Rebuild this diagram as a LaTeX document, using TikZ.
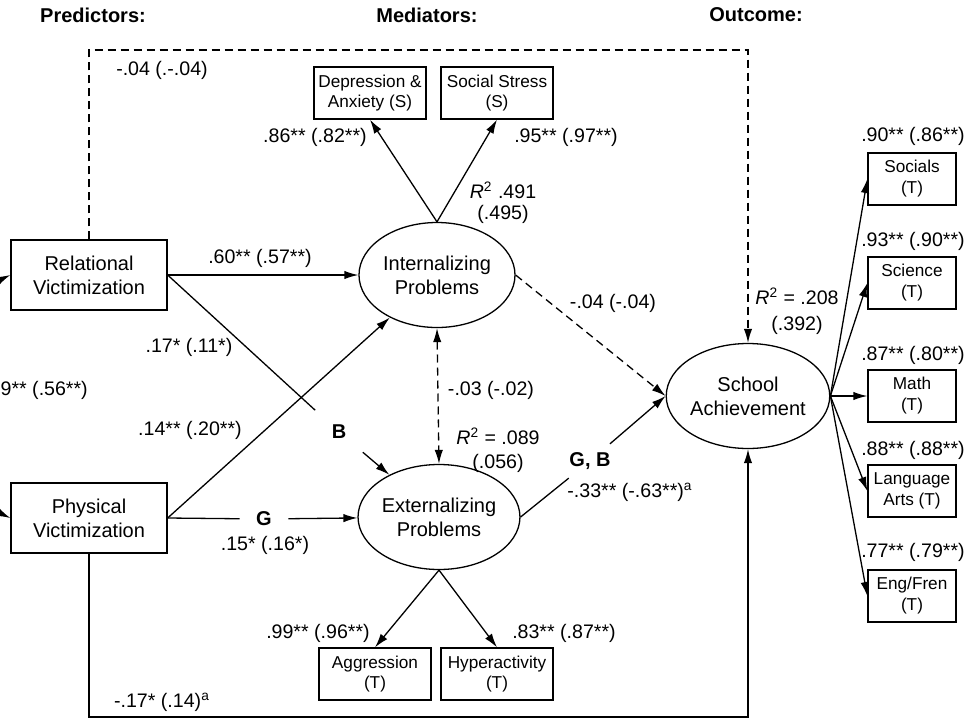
\documentclass[tikz,border=0pt]{standalone}
\usepackage{fontspec}
\setmainfont{Liberation Sans}
\usepackage{tikz}
\usetikzlibrary{arrows.meta,positioning,shapes.geometric}

\begin{document}
\begin{tikzpicture}[x=0.5pt,y=-0.5pt,>={Latex[length=7pt,width=4.2pt]},line width=0.65pt,
	every node/.style={font=\fontsize{9.8}{11}\selectfont},
	header/.style={font=\fontsize{10}{12}\selectfont\bfseries},
	grp/.style={font=\fontsize{10}{12}\selectfont\bfseries,inner sep=8pt},
	bigbox/.style={draw,minimum width=78pt,minimum height=35pt,align=center,font=\fontsize{10}{12}\selectfont},
	smallbox/.style={draw,minimum width=56pt,minimum height=26pt,inner sep=1pt,align=center,font=\fontsize{8.6}{10}\selectfont},
	outbox/.style={draw,minimum width=44pt,minimum height=26pt,inner sep=1pt,align=center,font=\fontsize{8.6}{10.5}\selectfont},
	latent/.style={draw,ellipse,minimum width=78pt,minimum height=52.5pt,inner sep=0pt,align=center,font=\fontsize{10}{12}\selectfont},
	dashline/.style={dash pattern=on 4pt off 2.5pt},
	]
\useasboundingbox (0,0) rectangle (966,719);

\node[header] (hPred) at (93,15)  {Predictors:};
\node[header] (hMed)  at (427,15) {Mediators:};
\node[header] (hOut)  at (756,15) {Outcome:};

\node[bigbox] (rel)  at (89,275) {Relational\\Victimization};
\node[bigbox] (phys) at (89,518) {Physical\\Victimization};

\node[latent] (int)    at (437,275) {Internalizing\\Problems};
\node[latent] (ext)    at (439,517) {Externalizing\\Problems};
\node[latent] (school) at (748,396) {School\\Achievement};

\node[smallbox] (depAnx)    at (370,93)  {Depression \&\\Anxiety (S)};
\node[smallbox] (socStress) at (497,93)  {Social Stress\\(S)};
\node[smallbox] (aggr)      at (375,674) {Aggression\\(T)};
\node[smallbox] (hyper)     at (497,674) {Hyperactivity\\(T)};

\node[outbox] (socials)  at (912,179) {Socials\\(T)};
\node[outbox] (science)  at (912,283) {Science\\(T)};
\node[outbox] (math)     at (912,396) {Math\\(T)};
\node[outbox] (langArts) at (912,491) {Language\\Arts (T)};
\node[outbox] (engFren)  at (912,596) {Eng/Fren\\(T)};

\node[grp] (gB)  at (339,432) {B};
\node[grp] (gG)  at (264,519) {G};
\node[grp,inner sep=4pt] (gGB) at (590,461) {G, B};

\coordinate (topCorner) at (748,50);
\coordinate (botCorner) at (748,717);

\draw[->,dashline] (rel.north) |- (topCorner) -- (school.north);
\draw[->] (phys.south) |- (botCorner) -- (school.south);
\draw[<->] (rel.west) to[out=205,in=155] (phys.west);

\draw[->] (int.north) -- (depAnx.south);
\draw[->] (int.north) -- (socStress.south);
\draw[->] (ext.south) -- (aggr.north);
\draw[->] (ext.south) -- (hyper.north);

\draw[->] (rel.east) -- (int);
\draw (rel.east) -- (gB);
\draw[->] (gB) -- (ext);
\draw[->] (phys.east) -- (int);
\draw (phys.east) -- (gG);
\draw[->] (gG) -- (ext);
\draw[<->,dashline] (int.south) -- (ext.north);
\draw[->,dashline] (int.east) -- (school.west);
\draw (ext.east) -- (gGB);
\draw[->] (gGB) -- (school.west);

\draw[->] (school.east) -- (socials.west);
\draw[->] (school.east) -- (science.west);
\draw[->] (school.east) -- (math.west);
\draw[->] (school.east) -- (langArts.west);
\draw[->] (school.east) -- (engFren.west);

\node (cTop)    at (162,70)  {-.04 (.-.04)};
\node (cDepAnx) at (315,137) {.86** (.82**)};
\node (cSocStr) at (566,137) {.95** (.97**)};
\node[align=center,font=\fontsize{9.8}{10.5}\selectfont] (rInt) at (503,203) {\textit{R}\textsuperscript{2} .491\\(.495)};
\node (cRelInt)  at (260,258) {.60** (.57**)};
\node (cRelExt)  at (189,347) {.17* (.11*)};
\node[anchor=west,inner sep=0pt] (cCorr) at (0,390) {9** (.56**)};
\node (cPhysInt) at (190,430) {.14** (.20**)};
\node (cIntExt)  at (491,390) {-.03 (-.02)};
\node[align=center,font=\fontsize{9.8}{12}\selectfont] (rExt) at (498,450) {\textit{R}\textsuperscript{2} = .089\\(.056)};
\node (cIntSch)  at (613,303) {-.04 (-.04)};
\node[align=center,font=\fontsize{9.8}{13}\selectfont] (rSch) at (797,311) {\textit{R}\textsuperscript{2} = .208\\(.392)};
\node (cPhysExt) at (265,545) {.15* (.16*)};
\node (cExtSch)  at (630,492) {-.33** (-.63**)\textsuperscript{a}};
\node (cAggr)    at (318,633) {.99** (.96**)};
\node (cHyper)   at (564,633) {.83** (.87**)};
\node (cPhysSch) at (162,702) {-.17* (.14)\textsuperscript{a}};

\node (cSocials)  at (913,136) {.90** (.86**)};
\node (cScience)  at (913,241) {.93** (.90**)};
\node (cMath)     at (913,355) {.87** (.80**)};
\node (cLangArts) at (913,450) {.88** (.88**)};
\node (cEngFren)  at (913,552) {.77** (.79**)};
\end{tikzpicture}
\end{document}
